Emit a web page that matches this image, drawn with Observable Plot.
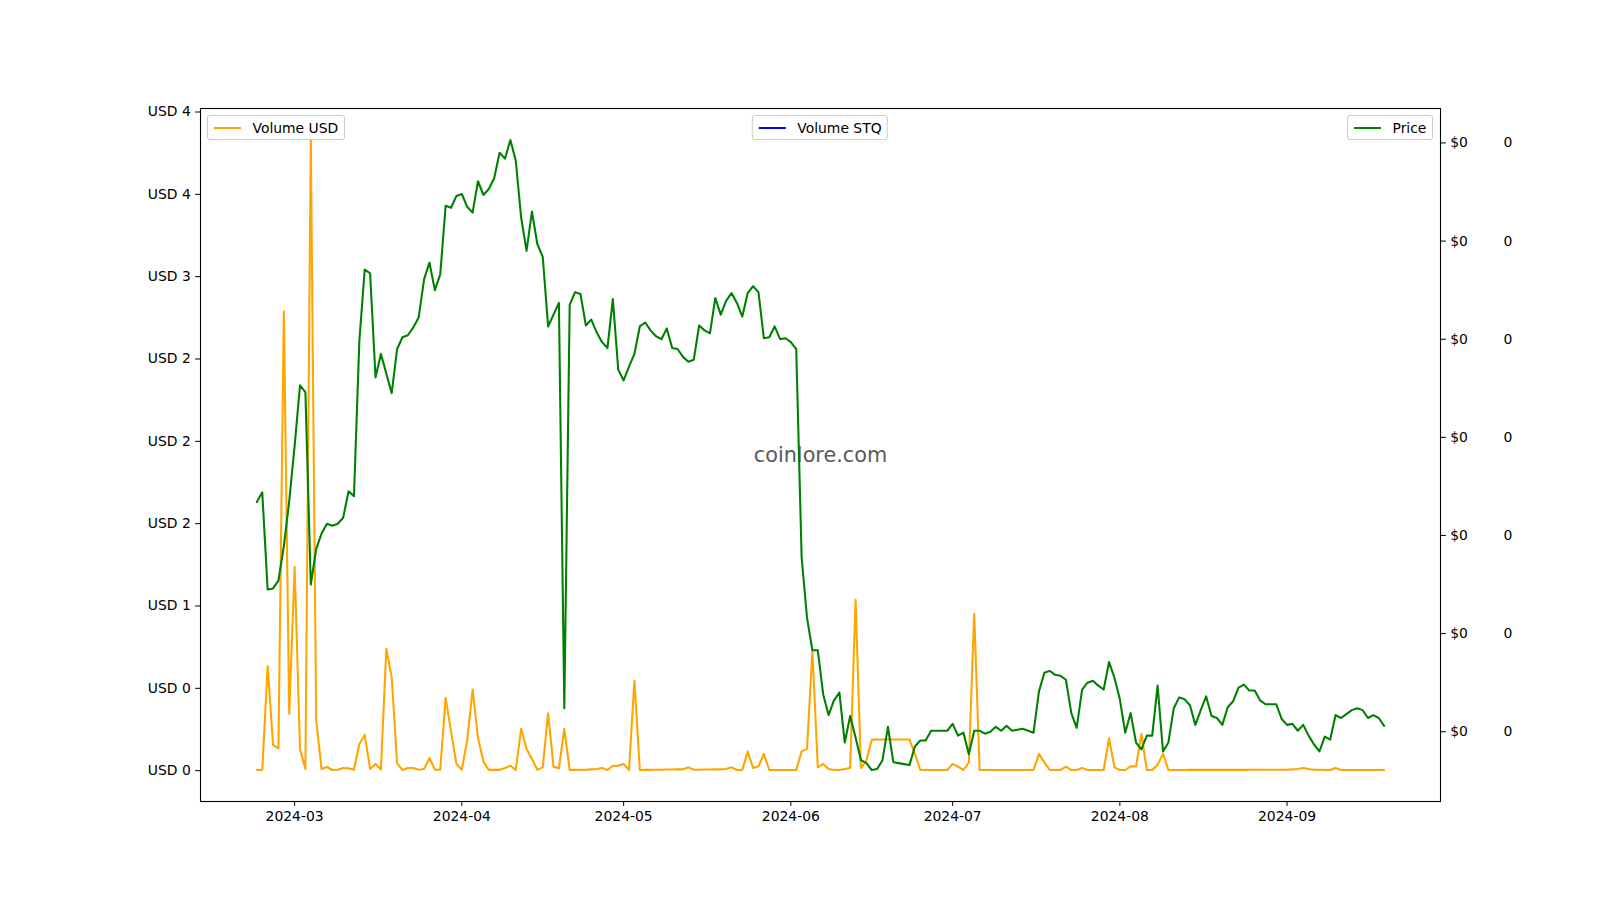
<!DOCTYPE html>
<html><head><meta charset="utf-8">
<script src="https://cdn.jsdelivr.net/npm/d3@7"></script>
<script src="https://cdn.jsdelivr.net/npm/@observablehq/plot@0.6"></script>
<style>
html,body{margin:0;padding:0;background:#fff;}
#chart{position:relative;width:1600px;height:900px;font-family:"DejaVu Sans",sans-serif;}
#chart svg{position:absolute;left:0;top:0;}
.legend{position:absolute;top:115px;height:25px;box-sizing:border-box;border:1px solid #cccccc;border-radius:3px;background:rgba(255,255,255,0.8);display:flex;align-items:center;padding:0 5.6px;font-size:13.9px;color:#000;white-space:nowrap;z-index:5;font-family:"DejaVu Sans",sans-serif;}
.legend .sw{display:inline-block;width:27.8px;height:2px;margin-right:11.1px;}
</style></head>
<body><div id="chart"></div>
<script>
const startDate = "2024-02-23";
const volumeUSD = [
0.004,0.004,0.636,0.157,0.136,2.79,0.345,1.237,0.132,0.01,
3.83,0.304,0.01,0.022,0.004,0.005,0.016,0.014,0.006,0.162,
0.217,0.01,0.041,0.006,0.74,0.568,0.044,0.004,0.016,0.016,
0.006,0.01,0.077,0.006,0.006,0.442,0.239,0.041,0.006,0.187,
0.493,0.199,0.055,0.005,0.005,0.005,0.016,0.03,0.005,0.254,
0.132,0.071,0.005,0.02,0.349,0.024,0.014,0.254,0.004,0.005,
0.004,0.006,0.008,0.01,0.016,0.004,0.03,0.03,0.041,0.004,
0.547,0.004,0.005,0.005,0.006,0.006,0.007,0.007,0.008,0.008,
0.02,0.006,0.006,0.007,0.007,0.008,0.008,0.01,0.02,0.004,
0.004,0.116,0.016,0.026,0.102,0.004,0.004,0.004,0.004,0.004,
0.004,0.117,0.132,0.73,0.02,0.041,0.01,0.004,0.004,0.01,
0.016,1.038,0.016,0.061,0.187,0.189,0.189,0.189,0.189,0.189,
0.189,0.189,0.102,0.004,0.004,0.004,0.004,0.004,0.004,0.041,
0.024,0.004,0.05,0.953,0.004,0.004,0.004,0.004,0.004,0.004,
0.004,0.004,0.004,0.004,0.004,0.102,0.05,0.004,0.004,0.004,
0.024,0.004,0.004,0.016,0.004,0.004,0.004,0.004,0.196,0.02,
0.004,0.004,0.026,0.026,0.223,0.004,0.004,0.036,0.102,0.004,
0.004,0.004,0.004,0.005,0.005,0.005,0.005,0.005,0.005,0.005,
0.005,0.005,0.005,0.005,0.005,0.006,0.006,0.006,0.006,0.006,
0.006,0.006,0.008,0.01,0.016,0.01,0.006,0.005,0.004,0.004,
0.016,0.004,0.004,0.004,0.004,0.004,0.004,0.004,0.004,0.004
];
const priceUSD = [
0.00434,0.00444,0.00345,0.00346,0.00354,0.00389,0.00435,0.00491,0.00553,0.00546,
0.00350,0.00386,0.00402,0.00412,0.00410,0.00412,0.00418,0.00445,0.00440,0.00598,
0.00671,0.00667,0.00561,0.00585,0.00565,0.00545,0.00590,0.00602,0.00604,0.00612,
0.00622,0.00661,0.00678,0.00650,0.00666,0.00736,0.00734,0.00746,0.00748,0.00735,
0.00729,0.00761,0.00747,0.00753,0.00764,0.00790,0.00784,0.00803,0.00782,0.00724,
0.00690,0.00730,0.00697,0.00684,0.00613,0.00625,0.00637,0.00224,0.00635,0.00648,
0.00646,0.00614,0.00620,0.00607,0.00597,0.00591,0.00641,0.00569,0.00558,0.00572,
0.00585,0.00613,0.00617,0.00609,0.00603,0.00600,0.00611,0.00591,0.00590,0.00582,
0.00577,0.00579,0.00614,0.00609,0.00606,0.00642,0.00625,0.00639,0.00647,0.00637,
0.00623,0.00647,0.00654,0.00648,0.00601,0.00602,0.00613,0.00600,0.00601,0.00597,
0.00590,0.00378,0.00316,0.00283,0.00283,0.00238,0.00217,0.00232,0.00240,0.00189,
0.00216,0.00194,0.00171,0.00168,0.00161,0.00162,0.00171,0.00205,0.00169,0.00168,
0.00167,0.00166,0.00185,0.00191,0.00191,0.00201,0.00201,0.00201,0.00201,0.00208,
0.00196,0.00199,0.00177,0.00201,0.00201,0.00198,0.00200,0.00205,0.00201,0.00206,
0.00201,0.00202,0.00203,0.00201,0.00199,0.00241,0.00260,0.00262,0.00258,0.00257,
0.00253,0.00219,0.00204,0.00243,0.00250,0.00252,0.00247,0.00243,0.00271,0.00255,
0.00233,0.00199,0.00219,0.00189,0.00182,0.00196,0.00196,0.00247,0.00180,0.00189,
0.00224,0.00235,0.00233,0.00227,0.00207,0.00222,0.00236,0.00216,0.00214,0.00207,
0.00225,0.00231,0.00245,0.00248,0.00242,0.00242,0.00232,0.00228,0.00228,0.00228,
0.00213,0.00207,0.00208,0.00201,0.00207,0.00196,0.00187,0.00180,0.00195,0.00192,
0.00217,0.00214,0.00218,0.00222,0.00224,0.00222,0.00214,0.00217,0.00214,0.00206
];
const volTicks = [0, 0.5, 1, 1.5, 2, 2.5, 3, 3.5, 4];
const volTickLabels = ["USD 0","USD 0","USD 1","USD 2","USD 2","USD 2","USD 3","USD 4","USD 4"];
const priceTicks = [0.002, 0.003, 0.004, 0.005, 0.006, 0.007, 0.008];
const priceTickLabels = ["$0","$0","$0","$0","$0","$0","$0"];
const stqTickLabels = ["0","0","0","0","0","0","0"];
const monthTicks = ["2024-03-01","2024-04-01","2024-05-01","2024-06-01","2024-07-01","2024-08-01","2024-09-01"];
const monthLabels = ["2024-03","2024-04","2024-05","2024-06","2024-07","2024-08","2024-09"];
const seriesNames = ["Volume USD","Volume STQ","Price"];
const seriesColors = ["orange","blue","green"];
const watermark = "coinlore.com";

const start = new Date(startDate + "T00:00:00Z");
const table = volumeUSD.map((v, i) => ({date: d3.utcDay.offset(start, i), vol: v, price: priceUSD[i]}));

function padded(ext) { const r = ext[1] - ext[0]; return [ext[0] - 0.05 * r, ext[1] + 0.05 * r]; }
const xExt = padded(d3.extent(table, d => +d.date));
const xDomain = [new Date(xExt[0]), new Date(xExt[1])];
const volDomain = padded(d3.extent(volumeUSD));
const priceDomain = padded(d3.extent(priceUSD));
const monthDates = monthTicks.map(m => new Date(m + "T00:00:00Z"));

const common = {
  width: 1600, height: 900,
  marginLeft: 200, marginRight: 160, marginTop: 108, marginBottom: 99,
  style: {fontFamily: "DejaVu Sans", fontSize: "13.9px", color: "black", background: "transparent", overflow: "visible"}
};

const p1 = Plot.plot({
  ...common,
  x: {type: "utc", domain: xDomain},
  y: {domain: volDomain},
  marks: [
    Plot.text([watermark], {frameAnchor: "middle", text: d => d, fontSize: 20.8, fill: "#5a5a5a"}),
    Plot.lineY(table, {x: "date", y: "vol", stroke: seriesColors[0], strokeWidth: 2.08}),
    Plot.axisY({anchor: "left", ticks: volTicks, tickSize: 4.86, tickPadding: 4.86, label: null,
      tickFormat: d => volTickLabels[volTicks.indexOf(d)]}),
    Plot.axisX({anchor: "bottom", ticks: monthDates, tickSize: 4.86, tickPadding: 4.86, label: null,
      tickFormat: d => monthLabels[monthDates.findIndex(m => +m === +d)]}),
    Plot.frame({stroke: "black", strokeWidth: 1.1})
  ]
});

const p2 = Plot.plot({
  ...common,
  x: {type: "utc", domain: xDomain, axis: null},
  y: {domain: priceDomain},
  marks: [
    Plot.lineY(table, {x: "date", y: "price", stroke: seriesColors[2], strokeWidth: 2.08}),
    Plot.axisY({anchor: "right", ticks: priceTicks, tickSize: 4.86, tickPadding: 4.86, label: null,
      tickFormat: d => priceTickLabels[priceTicks.indexOf(d)]}),
    Plot.axisY({anchor: "right", ticks: priceTicks, tickSize: 0, tickPadding: 63, label: null,
      tickFormat: d => stqTickLabels[priceTicks.indexOf(d)]})
  ]
});

const chart = document.getElementById("chart");
chart.appendChild(p1);
chart.appendChild(p2);

function legend(i, css) {
  const div = document.createElement("div");
  div.className = "legend";
  Object.assign(div.style, css);
  const sw = document.createElement("span");
  sw.className = "sw";
  sw.style.background = seriesColors[i];
  div.appendChild(sw);
  div.appendChild(document.createTextNode(seriesNames[i]));
  chart.appendChild(div);
}
legend(0, {left: "207px"});
legend(1, {left: "820px", transform: "translateX(-50%)"});
legend(2, {right: "167px"});
</script>
</body></html>
